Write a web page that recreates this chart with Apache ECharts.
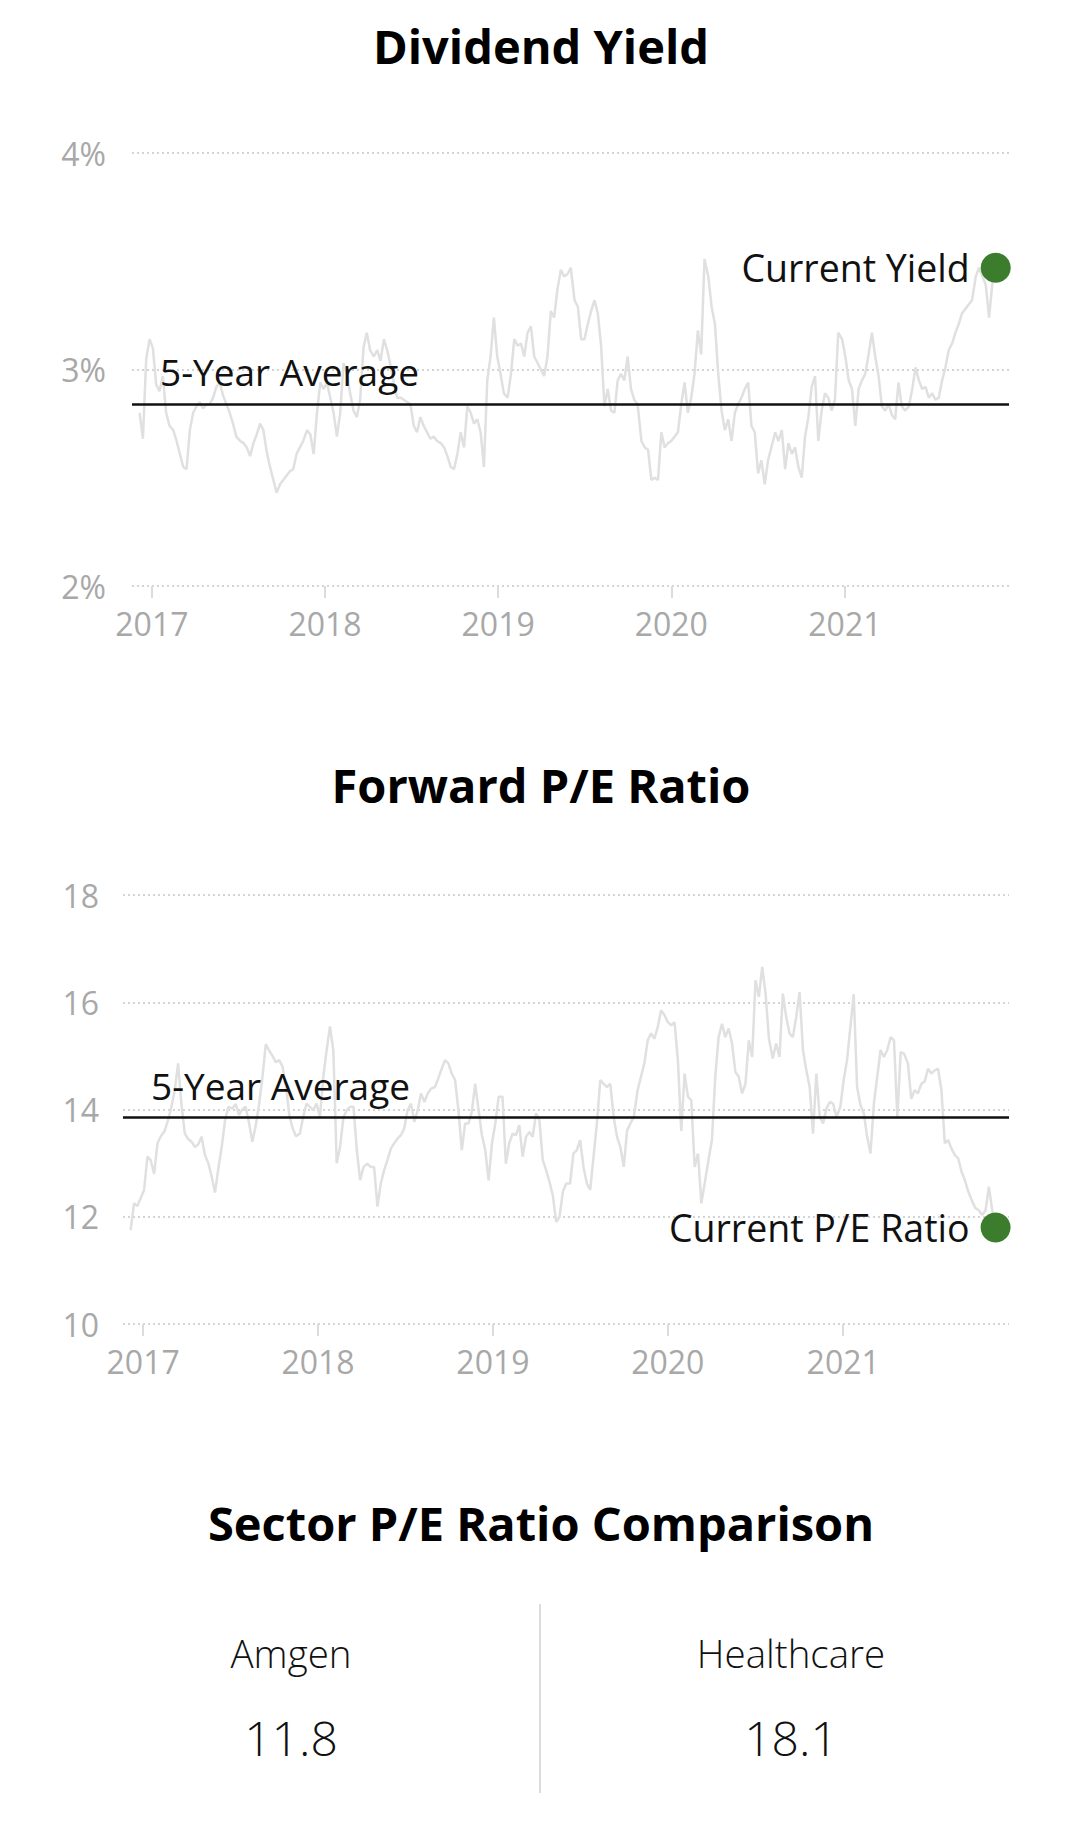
<!DOCTYPE html>
<html>
<head>
<meta charset="utf-8">
<script src="https://cdn.jsdelivr.net/npm/echarts@6/dist/echarts.min.js"></script>
<style>
html,body{margin:0;padding:0;background:#fff;}
#c{width:1080px;height:1835px;}
</style>
</head>
<body>
<div id="c"></div>
<script>
// ---- data (roughly weekly observations starting 2016-12-06) ----
const firstDate = [2016, 11, 6];
const sampleStepDays = 7.05;
const axisStartDate = [2016, 10, 20];
const axisEndDate = [2021, 11, 13];

const yieldValues = [
  2.80, 2.68, 3.05, 3.14, 3.10, 2.93, 2.90, 2.97, 2.80, 2.74,
  2.72, 2.67, 2.61, 2.55, 2.54, 2.72, 2.80, 2.83, 2.85, 2.82,
  2.84, 2.84, 2.87, 2.92, 2.94, 2.88, 2.84, 2.80, 2.75, 2.69,
  2.67, 2.66, 2.64, 2.60, 2.66, 2.70, 2.75, 2.72, 2.62, 2.55,
  2.49, 2.43, 2.47, 2.49, 2.51, 2.53, 2.54, 2.61, 2.64, 2.67,
  2.72, 2.70, 2.61, 2.80, 2.94, 2.91, 2.94, 2.87, 2.80, 2.69,
  2.80, 3.03, 2.98, 2.89, 2.81, 2.78, 2.86, 3.10, 3.17, 3.09,
  3.06, 3.09, 3.04, 3.14, 3.09, 3.02, 2.94, 2.87, 2.87, 2.86,
  2.85, 2.84, 2.74, 2.71, 2.78, 2.74, 2.71, 2.68, 2.69, 2.67,
  2.66, 2.64, 2.60, 2.55, 2.54, 2.61, 2.71, 2.64, 2.83, 2.80,
  2.75, 2.77, 2.71, 2.55, 2.95, 3.06, 3.24, 3.06, 2.98, 2.89,
  2.87, 2.98, 3.14, 3.11, 3.12, 3.06, 3.17, 3.20, 3.06, 3.03,
  3.00, 2.97, 3.06, 3.27, 3.24, 3.37, 3.46, 3.43, 3.44, 3.47,
  3.32, 3.29, 3.14, 3.14, 3.21, 3.27, 3.32, 3.26, 3.11, 2.83,
  2.91, 2.81, 2.80, 2.95, 2.98, 2.95, 3.06, 2.91, 2.86, 2.84,
  2.67, 2.64, 2.63, 2.49, 2.50, 2.49, 2.71, 2.64, 2.66, 2.67,
  2.69, 2.71, 2.84, 2.94, 2.80, 2.87, 2.98, 3.18, 3.07, 3.51,
  3.43, 3.29, 3.21, 2.98, 2.81, 2.72, 2.77, 2.67, 2.80, 2.84,
  2.87, 2.91, 2.94, 2.74, 2.71, 2.52, 2.58, 2.47, 2.58, 2.64,
  2.71, 2.67, 2.72, 2.54, 2.66, 2.61, 2.64, 2.55, 2.50, 2.69,
  2.78, 2.92, 2.97, 2.67, 2.81, 2.89, 2.87, 2.81, 2.86, 3.17,
  3.14, 3.06, 2.95, 2.91, 2.74, 2.91, 2.95, 2.98, 3.07, 3.17,
  3.06, 2.97, 2.83, 2.81, 2.84, 2.79, 2.77, 2.94, 2.83, 2.81,
  2.83, 2.91, 3.01, 2.95, 2.91, 2.92, 2.87, 2.89, 2.86, 2.87,
  2.95, 3.01, 3.09, 3.12, 3.17, 3.21, 3.26, 3.28, 3.30, 3.32,
  3.43, 3.47, 3.43, 3.39, 3.24, 3.40, 3.47
];

const peValues = [
  11.75, 12.25, 12.20, 12.35, 12.50, 13.12, 13.05, 12.80, 13.37, 13.50,
  13.60, 13.80, 14.05, 14.36, 14.86, 14.10, 13.55, 13.45, 13.40, 13.30,
  13.35, 13.49, 13.15, 13.00, 12.75, 12.45, 12.90, 13.30, 13.80, 14.05,
  14.02, 14.10, 13.90, 14.00, 14.05, 13.75, 13.40, 13.70, 14.10, 14.60,
  15.22, 15.10, 15.00, 14.88, 14.92, 14.80, 14.45, 13.90, 13.65, 13.50,
  13.55, 13.86, 14.11, 14.05, 13.99, 14.11, 13.86, 14.61, 15.11, 15.55,
  15.10, 13.00, 13.30, 13.85, 13.99, 14.05, 14.05, 13.24, 12.68, 12.93,
  12.99, 12.93, 12.93, 12.19, 12.62, 12.87, 13.06, 13.27, 13.37, 13.46,
  13.52, 13.65, 13.99, 14.11, 13.77, 13.99, 14.30, 14.14, 14.30, 14.39,
  14.42, 14.58, 14.76, 14.92, 14.86, 14.67, 14.55, 13.99, 13.24, 13.74,
  13.74, 13.96, 14.48, 13.99, 13.52, 13.24, 12.68, 13.37, 13.74, 14.24,
  14.24, 12.99, 13.37, 13.55, 13.52, 13.71, 13.12, 13.49, 13.58, 13.49,
  13.93, 13.80, 13.06, 12.87, 12.65, 12.40, 11.90, 12.00, 12.47, 12.62,
  12.62, 13.18, 13.24, 13.43, 12.93, 12.62, 12.50, 13.12, 13.74, 14.55,
  14.48, 14.42, 14.48, 13.86, 13.49, 13.30, 12.93, 13.61, 13.74, 13.86,
  14.36, 14.61, 14.86, 15.29, 15.42, 15.32, 15.54, 15.85, 15.76, 15.63,
  15.57, 15.63, 14.92, 13.60, 14.67, 14.24, 14.17, 12.93, 13.18, 12.25,
  12.68, 13.06, 13.43, 14.61, 15.35, 15.60, 15.35, 15.51, 15.23, 14.70,
  14.61, 14.30, 14.48, 15.29, 14.98, 16.41, 16.10, 16.66, 16.16, 15.32,
  14.95, 15.23, 14.98, 16.16, 15.73, 15.42, 15.35, 15.73, 16.19, 15.11,
  14.73, 14.42, 13.55, 14.67, 13.86, 13.74, 14.02, 14.14, 14.11, 13.86,
  14.05, 14.55, 14.92, 15.54, 16.15, 14.42, 14.08, 13.93, 13.49, 13.18,
  14.11, 14.61, 15.11, 14.98, 15.11, 15.35, 15.29, 13.86, 15.07, 15.04,
  14.86, 14.20, 14.36, 14.30, 14.48, 14.52, 14.76, 14.67, 14.73, 14.76,
  14.36, 13.37, 13.43, 13.27, 13.15, 13.09, 12.84, 12.68, 12.47, 12.31,
  12.16, 12.12, 12.03, 12.12, 12.56, 12.12, 11.80
];

const yieldAverage = 2.84;
const peAverage = 13.85;
const yieldAxis = {min: 2, max: 4, interval: 1};
const peAxis = {min: 10, max: 18, interval: 2};
const yearTicks = [2017, 2018, 2019, 2020, 2021];
const chartTitles = ['Dividend Yield', 'Forward P/E Ratio', 'Sector P/E Ratio Comparison'];
const averageLabel = '5-Year Average';
const currentLabels = ['Current Yield', 'Current P/E Ratio'];
const sectorNames = ['Amgen', 'Healthcare'];
const sectorPE = [11.8, 18.1];

// ---- build ----
const FONT = '"Open Sans", "Noto Sans", sans-serif';
const DAY = 86400000;
const t0 = new Date(...firstDate).getTime();
const sampleTs = i => t0 + Math.round(sampleStepDays * i) * DAY;
const toSeries = vals => vals.map((v, i) => [sampleTs(i), v]);
const yieldData = toSeries(yieldValues);
const peData = toSeries(peValues);
const tMin = new Date(...axisStartDate).getTime();
const tMax = new Date(...axisEndDate).getTime();
const yearTs = yearTicks.map(y => new Date(y, 0, 1).getTime());

function makeX(gi) {
  return {
    type: 'value', gridIndex: gi, min: tMin, max: tMax, scale: true,
    axisLine: {show: false},
    axisTick: {show: true, length: 12, customValues: yearTs, lineStyle: {color: '#dcdcdc', width: 2}},
    axisLabel: {customValues: yearTs, formatter: v => String(new Date(v).getFullYear()),
      color: '#a8a8a8', fontSize: 32, fontFamily: FONT, margin: 21},
    splitLine: {show: false}
  };
}
function makeY(gi, ax, fmt, margin) {
  return {
    type: 'value', gridIndex: gi, min: ax.min, max: ax.max, interval: ax.interval,
    axisLine: {show: false}, axisTick: {show: false},
    axisLabel: {formatter: fmt, color: '#a8a8a8', fontSize: 32, fontFamily: FONT, margin: margin},
    splitLine: {show: true, lineStyle: {type: [2, 3], color: '#d4d4d4', width: 2}}
  };
}
function lineSeries(gi, data, avg) {
  return {
    type: 'line', xAxisIndex: gi, yAxisIndex: gi, data: data, showSymbol: false,
    lineStyle: {color: '#e0e0e0', width: 2.5}, silent: true, z: 2,
    markLine: {
      silent: true, symbol: ['none', 'none'], animation: false,
      lineStyle: {color: '#111', width: 2.5, type: 'solid'},
      label: {show: true, position: 'insideStartTop', formatter: averageLabel,
        color: '#111', fontSize: 37, fontFamily: FONT, distance: [28, 14]},
      emphasis: {disabled: true},
      data: [{yAxis: avg}]
    }
  };
}
function dotSeries(gi, data, label) {
  return {
    type: 'scatter', xAxisIndex: gi, yAxisIndex: gi, data: [data[data.length - 1]],
    symbolSize: 30, itemStyle: {color: '#3b7d2c', opacity: 1}, z: 5, silent: true,
    label: {show: true, position: 'left', distance: 11, formatter: label,
      color: '#111', fontSize: 37.5, fontFamily: FONT}
  };
}

const graphics = [];
[[chartTitles[0], 46], [chartTitles[1], 785], [chartTitles[2], 1523]].forEach(([t, y]) => {
  graphics.push({type: 'text', x: 541, y: y, style: {text: t, fill: '#000', fontSize: 47,
    fontWeight: 'bold', fontFamily: FONT, align: 'center', verticalAlign: 'middle'}});
});
graphics.push({type: 'line', shape: {x1: 540, y1: 1604, x2: 540, y2: 1793},
  style: {stroke: '#dcdcdc', lineWidth: 2}});
sectorNames.forEach((n, k) => {
  const cx = 291 + 500 * k;
  graphics.push({type: 'text', x: cx, y: 1653, style: {text: n, fill: '#111', fontSize: 38.5,
    fontWeight: 300, fontFamily: FONT, align: 'center', verticalAlign: 'middle'}});
  graphics.push({type: 'text', x: cx, y: 1737, style: {text: sectorPE[k].toFixed(1), fill: '#111', fontSize: 48,
    fontWeight: 300, fontFamily: FONT, align: 'center', verticalAlign: 'middle'}});
});

const chart = echarts.init(document.getElementById('c'), null, {renderer: 'svg'});
chart.setOption({
  animation: false,
  backgroundColor: '#fff',
  grid: [
    {left: 132, right: 71, top: 153, height: 433},
    {left: 123, right: 71, top: 895, height: 429}
  ],
  xAxis: [makeX(0), makeX(1)],
  yAxis: [makeY(0, yieldAxis, '{value}%', 26), makeY(1, peAxis, '{value}', 24)],
  series: [
    lineSeries(0, yieldData, yieldAverage),
    dotSeries(0, yieldData, currentLabels[0]),
    lineSeries(1, peData, peAverage),
    dotSeries(1, peData, currentLabels[1])
  ],
  graphic: graphics
});
</script>
</body>
</html>
